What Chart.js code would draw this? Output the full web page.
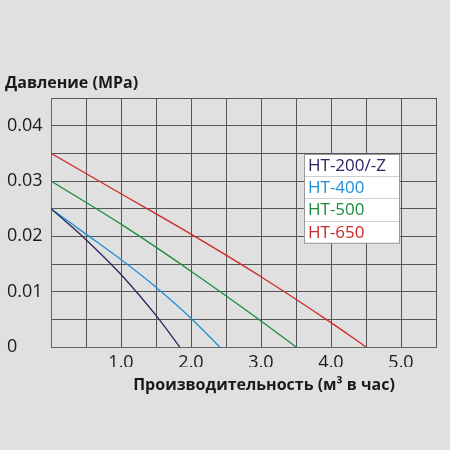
<!DOCTYPE html>
<html>
<head>
<meta charset="utf-8">
<script src="https://cdn.jsdelivr.net/npm/chart.js@4.4.0/dist/chart.umd.min.js"></script>
<style>
  html, body { margin: 0; padding: 0; background: #e0e0e0; }
  canvas { display: block; }
</style>
</head>
<body>
<canvas id="pumpChart" width="450" height="450"></canvas>
<script>
// data (flow m3/h -> pressure MPa)
const seriesNames = ["HT-200/-Z", "HT-400", "HT-500", "HT-650"];
const seriesColors = ["#2b2463", "#1f8fd6", "#1b8c3c", "#d02828"];

const ht200Flow = [0, 0.5, 1.0, 1.5, 1.84];
const ht200Pressure = [0.025, 0.0194, 0.0131, 0.0057, 0];

const ht400Flow = [0, 0.5, 1.0, 1.5, 2.0, 2.41];
const ht400Pressure = [0.025, 0.0204, 0.0158, 0.0108, 0.0052, 0];

const ht500Flow = [0, 1.0, 2.0, 3.0, 3.5];
const ht500Pressure = [0.030, 0.0222, 0.0137, 0.0047, 0];

const ht650Flow = [0, 1.0, 2.0, 3.0, 4.0, 4.5];
const ht650Pressure = [0.035, 0.0277, 0.0204, 0.0127, 0.0044, 0];

const xTickValues = [1, 2, 3, 4, 5];
const yTickValues = [0, 0.01, 0.02, 0.03, 0.04];

const yTitle = "Давление (MPa)";
const xTitle = "Производительность (м³ в час)";

function toPoints(xs, ys) {
  return xs.map((x, i) => ({ x: x, y: ys[i] }));
}

const allSeries = [
  toPoints(ht200Flow, ht200Pressure),
  toPoints(ht400Flow, ht400Pressure),
  toPoints(ht500Flow, ht500Pressure),
  toPoints(ht650Flow, ht650Pressure)
];

const FONT = "'Open Sans', 'Noto Sans', sans-serif";

// titles + boxed legend drawn on top
const extrasPlugin = {
  id: "extras",
  afterDraw(chart) {
    const ctx = chart.ctx;
    ctx.save();
    ctx.fillStyle = "#1a1a1a";
    ctx.textBaseline = "middle";
    ctx.font = "bold 16px " + FONT;
    ctx.textAlign = "left";
    ctx.fillText(yTitle, 5, 83);
    ctx.textAlign = "center";
    ctx.fillText(xTitle, 264, 385);

    // legend box
    const lx = 304, ly = 154, lw = 95, rowH = 22.2;
    ctx.fillStyle = "#ffffff";
    ctx.fillRect(lx, ly, lw, rowH * seriesNames.length);
    ctx.strokeStyle = "#d0d0d0";
    ctx.lineWidth = 1;
    for (let i = 1; i < seriesNames.length; i++) {
      ctx.beginPath();
      ctx.moveTo(lx, Math.round(ly + rowH * i) + 0.5);
      ctx.lineTo(lx + lw, Math.round(ly + rowH * i) + 0.5);
      ctx.stroke();
    }
    ctx.strokeStyle = "#9a9a9a";
    ctx.strokeRect(lx + 0.5, ly + 0.5, lw, rowH * seriesNames.length);
    ctx.font = "17px " + FONT;
    ctx.textAlign = "left";
    seriesNames.forEach((name, i) => {
      ctx.fillStyle = seriesColors[i];
      ctx.fillText(name, lx + 4, ly + rowH * i + rowH / 2 + 1);
    });
    ctx.restore();
  }
};

new Chart(document.getElementById("pumpChart").getContext("2d"), {
  type: "scatter",
  data: {
    datasets: allSeries.map((pts, i) => ({
      label: seriesNames[i],
      data: pts,
      showLine: true,
      borderColor: seriesColors[i],
      backgroundColor: seriesColors[i],
      borderWidth: 1.3,
      pointRadius: 0,
      cubicInterpolationMode: "monotone"
    }))
  },
  options: {
    responsive: false,
    animation: false,
    layout: { padding: { left: 7, top: 98, right: 14, bottom: 83 } },
    plugins: {
      legend: { display: false },
      tooltip: { enabled: false }
    },
    scales: {
      x: {
        type: "linear",
        min: 0,
        max: 5.5,
        afterFit(scale) { scale.height = 20; },
        border: { color: "#666666" },
        grid: { color: "#555555", lineWidth: 1, drawTicks: false },
        ticks: {
          stepSize: 0.5,
          padding: 5,
          color: "#1a1a1a",
          font: { size: 18, family: FONT },
          maxRotation: 0,
          autoSkip: false,
          callback(v) {
            return xTickValues.some(t => Math.abs(t - v) < 1e-6) ? v.toFixed(1) : "";
          }
        }
      },
      y: {
        type: "linear",
        min: 0,
        max: 0.045,
        afterFit(scale) { scale.width = 44; },
        border: { color: "#666666" },
        grid: { color: "#555555", lineWidth: 1, drawTicks: false },
        ticks: {
          stepSize: 0.005,
          crossAlign: "far",
          color: "#1a1a1a",
          font: { size: 18, family: FONT },
          autoSkip: false,
          callback(v) {
            const t = yTickValues.find(t => Math.abs(t - v) < 1e-7);
            if (t === undefined) return "";
            return t === 0 ? "0" : t.toFixed(2);
          }
        }
      }
    }
  },
  plugins: [extrasPlugin]
});
</script>
</body>
</html>
